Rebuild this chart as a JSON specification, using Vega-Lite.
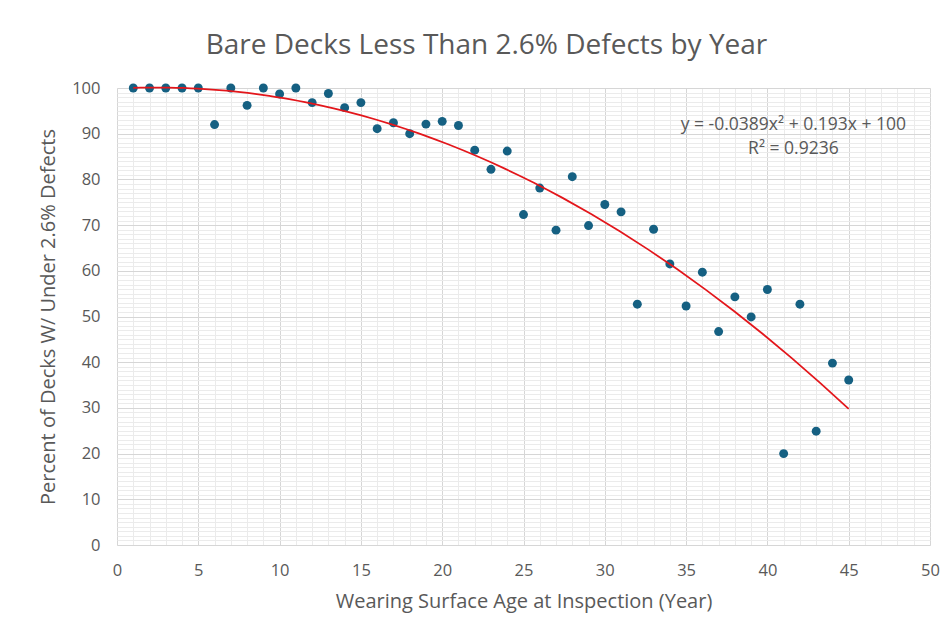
{
  "$schema": "https://vega.github.io/schema/vega-lite/v6.json",
  "width": 813,
  "height": 457,
  "autosize": {"type": "none"},
  "padding": {"left": 117, "top": 88, "right": 22, "bottom": 89},
  "background": "white",
  "title": {
    "text": "Bare Decks Less Than 2.6% Defects by Year",
    "fontSize": 28,
    "font": "Open Sans",
    "fontWeight": "normal",
    "color": "#595959",
    "anchor": "middle",
    "dx": -37,
    "offset": 20
  },
  "config": {
    "view": {"stroke": "#d0d0d0", "strokeWidth": 1},
    "font": "Open Sans"
  },
  "data": {
    "values": [
      {"age": 1, "pct": 100}, {"age": 2, "pct": 100}, {"age": 3, "pct": 100},
      {"age": 4, "pct": 100}, {"age": 5, "pct": 100}, {"age": 6, "pct": 92.0},
      {"age": 7, "pct": 100}, {"age": 8, "pct": 96.2}, {"age": 9, "pct": 100},
      {"age": 10, "pct": 98.7}, {"age": 11, "pct": 100}, {"age": 12, "pct": 96.8},
      {"age": 13, "pct": 98.8}, {"age": 14, "pct": 95.7}, {"age": 15, "pct": 96.8},
      {"age": 16, "pct": 91.1}, {"age": 17, "pct": 92.4}, {"age": 18, "pct": 90.0},
      {"age": 19, "pct": 92.1}, {"age": 20, "pct": 92.7}, {"age": 21, "pct": 91.8},
      {"age": 22, "pct": 86.4}, {"age": 23, "pct": 82.2}, {"age": 24, "pct": 86.2},
      {"age": 25, "pct": 72.3}, {"age": 26, "pct": 78.1}, {"age": 27, "pct": 68.9},
      {"age": 28, "pct": 80.6}, {"age": 29, "pct": 69.9}, {"age": 30, "pct": 74.5},
      {"age": 31, "pct": 72.9}, {"age": 32, "pct": 52.7}, {"age": 33, "pct": 69.1},
      {"age": 34, "pct": 61.5}, {"age": 35, "pct": 52.3}, {"age": 36, "pct": 59.7},
      {"age": 37, "pct": 46.7}, {"age": 38, "pct": 54.3}, {"age": 39, "pct": 49.9},
      {"age": 40, "pct": 55.9}, {"age": 41, "pct": 20.0}, {"age": 42, "pct": 52.7},
      {"age": 43, "pct": 24.9}, {"age": 44, "pct": 39.8}, {"age": 45, "pct": 36.1}
    ]
  },
  "resolve": {"axis": {"x": "independent", "y": "independent"}},
  "layer": [
    {
      "mark": {"type": "point", "filled": true, "size": 80, "color": "#156082", "opacity": 1},
      "encoding": {
        "x": {
          "field": "age", "type": "quantitative",
          "scale": {"domain": [0, 50], "nice": false},
          "axis": {
            "orient": "bottom",
            "values": [0,1,2,3,4,5,6,7,8,9,10,11,12,13,14,15,16,17,18,19,20,21,22,23,24,25,26,27,28,29,30,31,32,33,34,35,36,37,38,39,40,41,42,43,44,45,46,47,48,49,50],
            "grid": true, "gridColor": "#ebebeb", "gridWidth": 1,
            "labels": false, "ticks": false, "domain": false, "title": null
          }
        },
        "y": {
          "field": "pct", "type": "quantitative",
          "scale": {"domain": [0, 100], "nice": false},
          "axis": {
            "orient": "left",
            "values": [0,1,2,3,4,5,6,7,8,9,10,11,12,13,14,15,16,17,18,19,20,21,22,23,24,25,26,27,28,29,30,31,32,33,34,35,36,37,38,39,40,41,42,43,44,45,46,47,48,49,50,51,52,53,54,55,56,57,58,59,60,61,62,63,64,65,66,67,68,69,70,71,72,73,74,75,76,77,78,79,80,81,82,83,84,85,86,87,88,89,90,91,92,93,94,95,96,97,98,99,100],
            "grid": true, "gridColor": "#ebebeb", "gridWidth": 1,
            "labels": false, "ticks": false, "domain": false, "title": null
          }
        }
      }
    },
    {
      "transform": [{"regression": "pct", "on": "age", "method": "poly", "order": 2}],
      "mark": {"type": "line", "color": "#e3161b", "strokeWidth": 1.75},
      "encoding": {
        "x": {
          "field": "age", "type": "quantitative",
          "scale": {"domain": [0, 50], "nice": false},
          "axis": {
            "orient": "bottom",
            "values": [0, 5, 10, 15, 20, 25, 30, 35, 40, 45, 50],
            "grid": true, "gridColor": "#d6d6d6", "gridWidth": 1,
            "ticks": false, "domain": false, "labelFlush": false,
            "labelFontSize": 16.5, "labelColor": "#595959", "labelPadding": 17,
            "labelFont": "Open Sans",
            "title": "Wearing Surface Age at Inspection (Year)",
            "titleFontSize": 20, "titleFontWeight": "normal", "titleColor": "#595959",
            "titleFont": "Open Sans", "titlePadding": 13
          }
        },
        "y": {
          "field": "pct", "type": "quantitative",
          "scale": {"domain": [0, 100], "nice": false},
          "axis": {
            "orient": "left",
            "values": [0, 10, 20, 30, 40, 50, 60, 70, 80, 90, 100],
            "grid": true, "gridColor": "#d6d6d6", "gridWidth": 1,
            "ticks": false, "domain": false, "labelFlush": false,
            "labelFontSize": 16.5, "labelColor": "#595959", "labelPadding": 17,
            "labelFont": "Open Sans",
            "title": "Percent of Decks W/ Under 2.6% Defects",
            "titleFontSize": 20, "titleFontWeight": "normal", "titleColor": "#595959",
            "titleFont": "Open Sans", "titlePadding": 13
          }
        }
      }
    },
    {
      "data": {"values": [{"label": "equation"}]},
      "mark": {
        "type": "text",
        "text": ["y = -0.0389x² + 0.193x + 100", "R² = 0.9236"],
        "fontSize": 17.5, "color": "#595959", "lineHeight": 24,
        "align": "center", "baseline": "middle", "font": "Open Sans"
      },
      "encoding": {
        "x": {"datum": 41.6, "type": "quantitative", "axis": null},
        "y": {"datum": 92.0, "type": "quantitative", "axis": null}
      }
    }
  ]
}
